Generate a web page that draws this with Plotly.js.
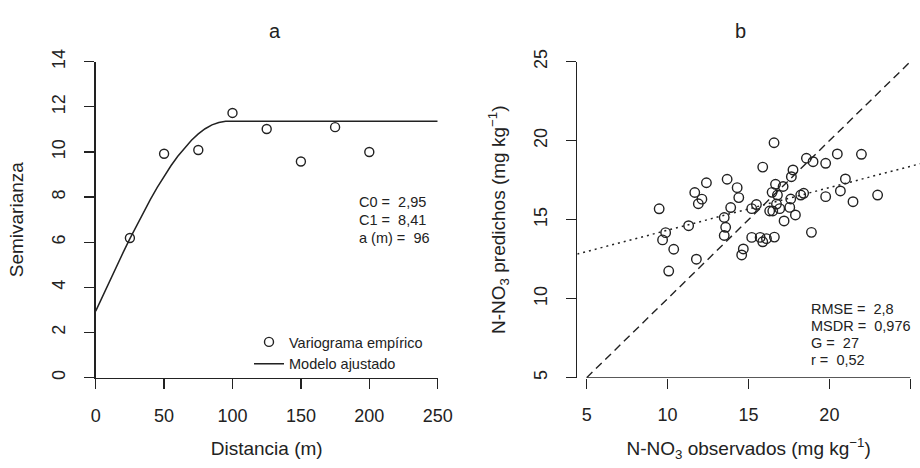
<!DOCTYPE html>
<html><head><meta charset="utf-8">
<script src="https://cdn.plot.ly/plotly-3.0.1.min.js"></script>
<style>html,body{margin:0;padding:0;background:#fff}</style>
</head><body><div id="chart" style="width:920px;height:468px"></div>
<script>
// Panel a: empirical variogram and fitted model
const lagDist = [25, 50, 75, 100, 125, 150, 175, 200];
const semivar = [6.19, 9.92, 10.09, 11.73, 11.02, 9.58, 11.10, 10.00];
const modelDist = [0, 5, 10, 15, 20, 25, 30, 35, 40, 45, 50, 55, 60, 65, 70, 75, 80, 85, 90, 95, 96, 250];
const modelGamma = [2.95, 3.61, 4.26, 4.91, 5.54, 6.16, 6.76, 7.35, 7.90, 8.43, 8.93, 9.39, 9.81, 10.19, 10.52, 10.80, 11.03, 11.20, 11.31, 11.36, 11.36, 11.36];
const statsA = ["C0 =\u00a0\u00a02,95", "C1 =\u00a0\u00a08,41", "a (m) =\u00a0\u00a096"];

// Panel b: observed vs predicted N-NO3
const obsNO3 = [9.48, 9.88, 9.69, 10.38, 10.07, 11.30, 11.68, 11.90, 12.12, 12.40, 11.78, 13.50, 13.59, 13.50, 13.68, 13.90, 14.30, 14.40, 14.68, 14.58,
  15.20, 15.20, 15.49, 15.88, 15.72, 15.88, 16.11, 16.58, 16.60, 16.31, 16.50, 16.73, 16.93, 16.46, 16.67, 17.14, 16.79, 17.55, 17.90, 17.20,
  17.61, 17.65, 17.75, 18.23, 18.41, 18.58, 18.99, 19.77, 20.49, 21.98, 20.99, 20.68, 19.77, 21.46, 22.98, 18.89];
const predNO3 = [15.69, 14.18, 13.72, 13.13, 11.75, 14.62, 16.72, 16.01, 16.30, 17.34, 12.50, 15.14, 14.52, 14.00, 17.56, 15.77, 17.03, 16.40, 13.15, 12.77,
  13.88, 15.70, 15.96, 18.33, 13.88, 13.60, 13.80, 19.87, 13.90, 15.55, 15.55, 15.99, 15.70, 16.73, 17.24, 17.10, 16.56, 15.78, 15.30, 14.92,
  16.31, 17.72, 18.15, 16.56, 16.67, 18.89, 18.67, 18.57, 19.16, 19.14, 17.58, 16.82, 16.46, 16.14, 16.56, 14.20];
const oneToOneX = [5, 25];
const oneToOneY = [5, 25];
const regX = [4.42, 25.6];
const regY = [12.83, 18.54];
const statsB = ["RMSE =\u00a0\u00a02,8", "MSDR =\u00a0\u00a00,976", "G =\u00a0\u00a027", "r =\u00a0\u00a00,52"];

// Ticks
const xTicksA = [0, 50, 100, 150, 200, 250];
const yTicksA = [0, 2, 4, 6, 8, 10, 12, 14];
const xTicksB = [5, 10, 15, 20, 25];
const yTicksB = [5, 10, 15, 20, 25];

const ink = '#222';
const FONT = '"Liberation Sans", Arial, Helvetica, sans-serif';

const traces = [
  {x: lagDist, y: semivar, type: 'scatter', mode: 'markers', name: 'Variograma empírico',
   marker: {symbol: 'circle-open', size: 9, color: ink, line: {width: 1.4, color: ink}}, xaxis: 'x', yaxis: 'y'},
  {x: modelDist, y: modelGamma, type: 'scatter', mode: 'lines', name: 'Modelo ajustado',
   line: {color: ink, width: 1.5}, xaxis: 'x', yaxis: 'y'},
  {x: oneToOneX, y: oneToOneY, type: 'scatter', mode: 'lines', showlegend: false,
   line: {color: ink, width: 1.4, dash: '8px,5px'}, xaxis: 'x2', yaxis: 'y2'},
  {x: regX, y: regY, type: 'scatter', mode: 'lines', showlegend: false,
   line: {color: ink, width: 1.5, dash: '2px,4px'}, xaxis: 'x2', yaxis: 'y2'},
  {x: obsNO3, y: predNO3, type: 'scatter', mode: 'markers', showlegend: false,
   marker: {symbol: 'circle-open', size: 9.5, color: ink, line: {width: 1.4, color: ink}}, xaxis: 'x2', yaxis: 'y2'}
];

const W = 920, H = 468;
const px = v => v / W;
const py = v => 1 - v / H;

function axisBase() {
  return {
    ticks: 'outside', ticklen: 10, tickwidth: 1.3, tickcolor: ink,
    showgrid: false, zeroline: false, linecolor: ink, linewidth: 1.3,
    tickfont: {family: FONT, size: 18, color: ink}
  };
}

const annotations = [
  {text: 'a', x: px(266.7), y: py(18), xref: 'paper', yref: 'paper', showarrow: false, font: {family: FONT, size: 20, color: ink}},
  {text: 'b', x: px(748), y: py(18), xref: 'paper', yref: 'paper', showarrow: false, font: {family: FONT, size: 20, color: ink}}
];
const rowsA = [202, 220, 238];
statsA.forEach((t, i) => annotations.push({text: t, x: px(357), y: py(rowsA[i]), xref: 'paper', yref: 'paper',
  xanchor: 'left', yanchor: 'middle', showarrow: false, font: {family: FONT, size: 14.5, color: ink}}));
const rowsB = [308.5, 325.8, 343, 360];
statsB.forEach((t, i) => annotations.push({text: t, x: px(808.5), y: py(rowsB[i]), xref: 'paper', yref: 'paper',
  xanchor: 'left', yanchor: 'middle', showarrow: false, font: {family: FONT, size: 14.5, color: ink}}));

const layout = {
  width: W, height: H,
  margin: {l: 0, r: 0, t: 0, b: 0},
  paper_bgcolor: '#fff', plot_bgcolor: 'rgba(0,0,0,0)',
  font: {family: FONT, color: ink},
  showlegend: true,
  legend: {x: px(249), y: py(326), xanchor: 'left', yanchor: 'top', bgcolor: 'rgba(0,0,0,0)', borderwidth: 0,
    font: {family: FONT, size: 14.5, color: ink}, tracegroupgap: 0},
  xaxis: Object.assign(axisBase(), {domain: [px(95.7), px(437.7)], range: [0, 250], tickvals: xTicksA, showline: true,
    anchor: 'y', ticklabelstandoff: 11,
    title: {text: 'Distancia (m)', font: {family: FONT, size: 19, color: ink}, standoff: 17}}),
  yaxis: Object.assign(axisBase(), {domain: [1 - 377.7 / H, 1 - 61.7 / H], range: [0, 14], tickvals: yTicksA, showline: true,
    anchor: 'x', tickangle: -90, ticklabelstandoff: 12,
    title: {text: 'Semivarianza', font: {family: FONT, size: 19, color: ink}, standoff: 20}}),
  xaxis2: Object.assign(axisBase(), {domain: [px(577.3), 1], range: [4.42, 25.6], tickvals: xTicksB, showline: false,
    anchor: 'y2', ticklabelstandoff: 11,
    title: {text: 'N-NO<sub>3</sub> observados (mg kg<sup>\u22121</sup>)', font: {family: FONT, size: 19, color: ink}, standoff: 17}}),
  yaxis2: Object.assign(axisBase(), {domain: [1 - 377.7 / H, 1 - 61.7 / H], range: [5, 25], tickvals: yTicksB, showline: true,
    anchor: 'x2', tickangle: -90, ticklabelstandoff: 12,
    title: {text: 'N-NO<sub>3</sub> predichos (mg kg<sup>\u22121</sup>)', font: {family: FONT, size: 19, color: ink}, standoff: 20}}),
  shapes: [
    {type: 'line', xref: 'x2', yref: 'y2', x0: xTicksB[0], x1: xTicksB[xTicksB.length - 1], y0: 5, y1: 5,
     line: {color: ink, width: 1.3}}
  ],
  annotations: annotations
};

Plotly.newPlot('chart', traces, layout, {displayModeBar: false, staticPlot: true});
</script></body></html>
